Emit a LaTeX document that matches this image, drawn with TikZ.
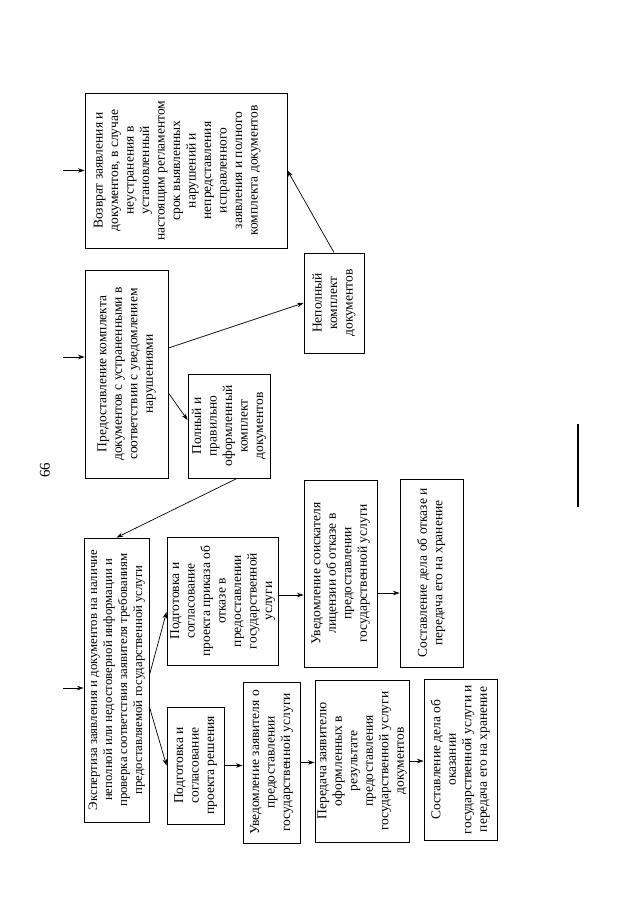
\documentclass[tikz,border=0pt]{standalone}
\usepackage{fontspec}
\setmainfont{Liberation Serif}
\usepackage{graphicx}
\usepackage{tikz}
\usetikzlibrary{
	arrows.meta, positioning, calc
}
\newcommand{\vtxt}[1]{\rotatebox{90}{\begin{tabular}{@{}c@{}}#1\end{tabular}}}

\begin{document}
\begin{tikzpicture}[x=1pt, y=1pt,
		blk/.style={draw, line width=0.9pt, inner sep=0pt, font=\fontsize{13.5}{15.5}\selectfont},
		arr/.style={-{Stealth[length=6.5pt,width=4.5pt]}, line width=0.7pt}]
	\useasboundingbox (0,0) rectangle (640,-905);
	% upper row
	\node[blk, minimum width=202pt, minimum height=155pt] (vozvrat) at (186,-170.5) {\vtxt{Возврат заявления и\\документов, в случае\\неустранения в\\установленный\\настоящим регламентом\\срок выявленных\\нарушений и\\непредставления\\исправленного\\заявления и полного\\комплекта документов}\hspace*{18pt}};
	\node[blk, minimum width=83pt, minimum height=208pt] (predost) at (126.5,-374) {\vtxt{Предоставление комплекта\\документов с устраненными в\\соответствии с уведомлением\\нарушениями}};
	\node[blk, minimum width=60pt, minimum height=100pt] (nepoln) at (334,-303) {\vtxt{Неполный\\комплект\\документов}};
	\node[blk, minimum width=82pt, minimum height=104pt] (poln) at (229,-426) {\vtxt{Полный и\\правильно\\оформленный\\комплект\\документов}};
	% expertise
	\node[blk, minimum width=65pt, minimum height=284pt, font=\fontsize{12.8}{15}\selectfont] (ekspert) at (116.5,-680) {\vtxt{Экспертиза заявления и документов на наличие\\неполной или недостоверной информации и\\проверка соответствия заявителя требованиям\\предоставляемой государственной услуги}};
	% refusal branch
	\node[blk, minimum width=111pt, minimum height=128pt] (prikaz) at (222.5,-601) {\vtxt{Подготовка и\\согласование\\проекта приказа об\\отказе в\\предоставлении\\государственной\\услуги}};
	\node[blk, minimum width=73pt, minimum height=187pt] (uvotk) at (340.5,-573.5) {\vtxt{Уведомление соискателя\\лицензии об отказе в\\предоставлении\\государственной услуги}};
	\node[blk, minimum width=63pt, minimum height=188pt] (delootk) at (431.5,-573) {\vtxt{Составление дела об отказе и\\передача его на хранение}};
	% positive branch
	\node[blk, minimum width=57pt, minimum height=117pt] (reshenie) at (195.5,-765.5) {\vtxt{Подготовка и\\согласование\\проекта решения}};
	\node[blk, minimum width=57pt, minimum height=161pt] (uvpred) at (271.5,-762.5) {\vtxt{Уведомление заявителя о\\предоставлении\\государственной услуги}};
	\node[blk, minimum width=94pt, minimum height=162pt] (peredacha) at (362,-761) {\vtxt{Передача заявителю\\оформленных в\\результате\\предоставления\\государственной услуги\\документов}};
	\node[blk, minimum width=73pt, minimum height=161pt] (delookaz) at (460.5,-759.5) {\vtxt{Составление дела об\\оказании\\государственной услуги и\\передача его на хранение}};
	% page number
	\node[rotate=90, font=\fontsize{15}{18}\selectfont] (pnum) at (45,-470) {66};
	\draw[line width=1.2pt] (578,-424) -- (578,-507);
	% inputs
	\coordinate (inA) at (63,-170.5);
	\coordinate (inB) at (63,-357);
	\coordinate (inE) at (63,-688);
	\draw[arr] (inA) -- (inA -| vozvrat.west);
	\draw[arr] (inB) -- (inB -| predost.west);
	\draw[arr] (inE) -- (inE -| ekspert.west);
	% connectors
	\draw[arr] ([yshift=26pt]predost.east) -- (nepoln.west);
	\draw[arr] ([yshift=-19pt]predost.east) -- ([yshift=6pt]poln.west);
	\draw[arr] (nepoln.north) -- (vozvrat.east);
	\draw[arr] ([xshift=8pt]poln.south) -- (ekspert.north);
	\draw[arr] ([yshift=5pt]ekspert.east) -- ([yshift=-11pt]prikaz.west);
	\draw[arr] ([yshift=-27pt]ekspert.east) -- (reshenie.west);
	\draw[arr] ([yshift=6pt]prikaz.east) -- ([yshift=6pt]prikaz.east -| uvotk.west);
	\draw[arr] ([yshift=-19.5pt]uvotk.east) -- ([yshift=-19.5pt]uvotk.east -| delootk.west);
	\draw[arr] (reshenie.east) -- (reshenie.east -| uvpred.west);
	\draw[arr] (uvpred.east) -- (uvpred.east -| peredacha.west);
	\draw[arr] (peredacha.east) -- (peredacha.east -| delookaz.west);
\end{tikzpicture}
\end{document}
